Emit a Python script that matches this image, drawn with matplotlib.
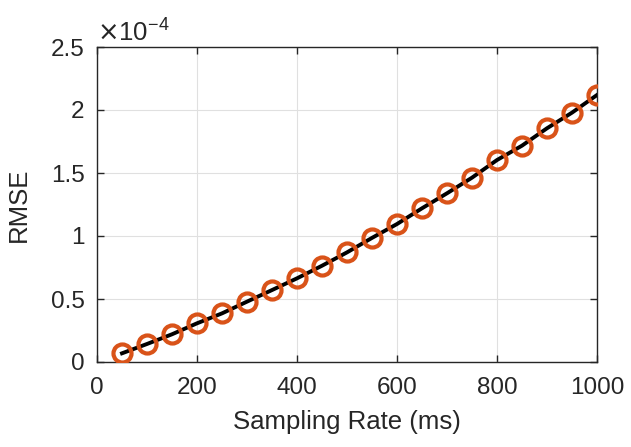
import matplotlib
matplotlib.use("Agg")
import matplotlib.pyplot as plt
from matplotlib.ticker import FuncFormatter

plt.rcParams['font.family'] = ['Liberation Sans', 'DejaVu Sans']

sampling_rate = [50, 100, 150, 200, 250, 300, 350, 400, 450, 500,
                 550, 600, 650, 700, 750, 800, 850, 900, 950, 1000]
rmse = [0.069e-4, 0.143e-4, 0.220e-4, 0.307e-4, 0.386e-4, 0.479e-4, 0.571e-4,
        0.664e-4, 0.764e-4, 0.870e-4, 0.985e-4, 1.095e-4, 1.220e-4, 1.339e-4,
        1.463e-4, 1.603e-4, 1.717e-4, 1.855e-4, 1.979e-4, 2.119e-4]
x_ticks = [0, 200, 400, 600, 800, 1000]
y_ticks = [0, 0.5e-4, 1.0e-4, 1.5e-4, 2.0e-4, 2.5e-4]

fig = plt.figure(figsize=(6.31, 4.47), dpi=100)
ax = fig.add_axes([97/631, 1-362/447, 500/631, 315/447])

ax.plot(sampling_rate, rmse, color='black', linewidth=2.8, zorder=3)
ax.plot(sampling_rate, rmse, linestyle='none', marker='o', markersize=13,
        markerfacecolor='none', markeredgecolor='#D95319', markeredgewidth=3.0, zorder=4)

ax.set_xlim(0, 1000)
ax.set_ylim(0, 2.5e-4)
ax.set_xticks(x_ticks)
ax.set_yticks(y_ticks)
ax.yaxis.set_major_formatter(FuncFormatter(lambda v, p: f"{v/1e-4:g}"))

ax.grid(True, color='#e0e0e0', linewidth=0.8)
ax.set_axisbelow(True)
for s in ax.spines.values():
    s.set_color('#262626')
    s.set_linewidth(1.0)
ax.tick_params(direction='in', length=5, width=1.0, colors='#262626',
               labelsize=17.5, top=True, right=True)
ax.tick_params(axis='x', pad=11)
ax.tick_params(axis='y', pad=9)

ax.set_xlabel('Sampling Rate (ms)', fontsize=18.5, color='#262626', labelpad=8)
ax.set_ylabel('RMSE', fontsize=18.5, color='#262626', labelpad=14)
ax.text(0.0, 1.005, r'$\times$10$^{\mathregular{-4}}$', transform=ax.transAxes,
        fontsize=18.5, color='#262626', ha='left', va='bottom')

fig.savefig('out.png', dpi=100)
